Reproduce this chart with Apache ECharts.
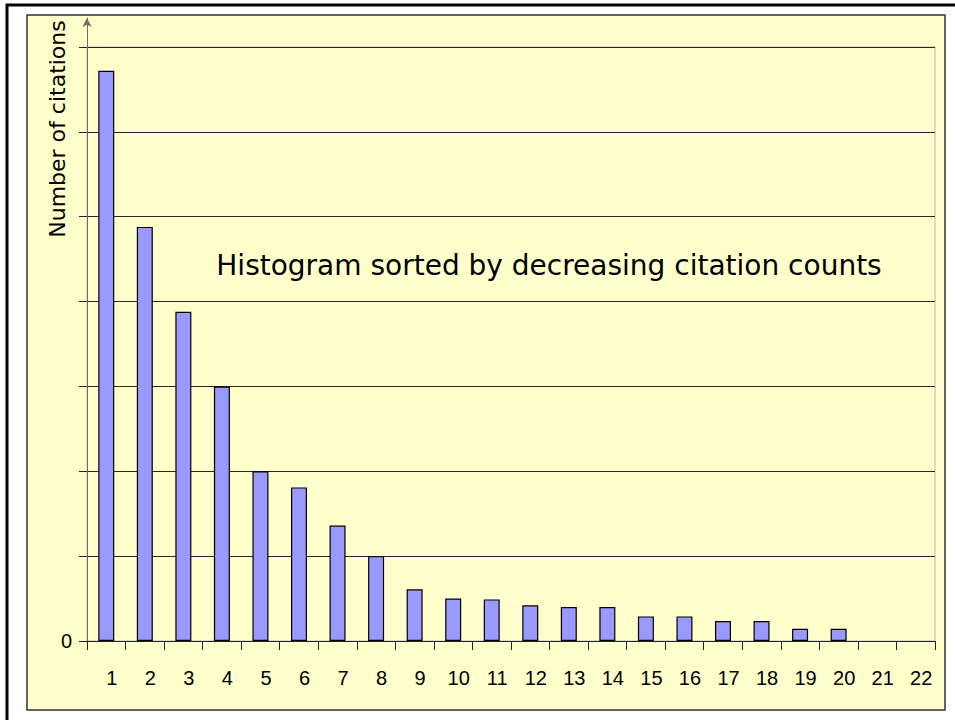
<!DOCTYPE html>
<html>
<head>
<meta charset="utf-8">
<script src="https://cdn.jsdelivr.net/npm/echarts@6/dist/echarts.min.js"></script>
<style>
html,body{margin:0;padding:0;background:#fff;}
#c{width:955px;height:720px;}
</style>
</head>
<body>
<div id="c"></div>
<script>
// Data (y in gridline units; the axis has no value labels except 0)
const categories = ['1','2','3','4','5','6','7','8','9','10','11','12','13','14','15','16','17','18','19','20','21','22'];
const citations = [6.72, 4.88, 3.88, 3.0, 2.0, 1.81, 1.36, 1.0, 0.61, 0.50, 0.49, 0.42, 0.40, 0.40, 0.29, 0.29, 0.235, 0.235, 0.145, 0.145, null, null];
const yTicks = [0, 1, 2, 3, 4, 5, 6, 7];
const titleText = 'Histogram sorted by decreasing citation counts';
const yName = 'Number of citations';

const FONT = '"DejaVu Sans", Verdana, sans-serif';
const NUMFONT = '"Liberation Sans", Arial, sans-serif';
const chart = echarts.init(document.getElementById('c'), null, {renderer: 'svg'});
chart.setOption({
  animation: false,
  backgroundColor: '#ffffff',
  grid: [
    {left: 87, right: 20, top: 47, bottom: 79, show: true, borderColor: '#b8b8b8', borderWidth: 1, backgroundColor: 'transparent'},
    {left: 87, right: 20, top: 18, bottom: 79, show: false}
  ],
  graphic: [
    {type: 'rect', z: -20, silent: true, shape: {x: 7, y: 5, width: 960, height: 730}, style: {fill: '#ffffff', stroke: '#000', lineWidth: 3}},
    {type: 'rect', z: -10, silent: true, shape: {x: 27, y: 15, width: 918, height: 695}, style: {fill: '#FFFFCC', stroke: '#333', lineWidth: 1.5}},
    {type: 'text', z: 100, x: 549, y: 265, style: {text: titleText, font: '28px ' + FONT, fill: '#000', textAlign: 'center', textVerticalAlign: 'middle'}},
    {type: 'text', z: 100, x: 57, y: 129, rotation: Math.PI / 2, style: {text: yName, font: '22px ' + FONT, fill: '#000', textAlign: 'center', textVerticalAlign: 'middle'}}
  ],
  xAxis: [
    {
      type: 'category', gridIndex: 0,
      data: categories,
      boundaryGap: true,
      axisLine: {lineStyle: {color: '#222', width: 1}},
      axisTick: {show: true, length: 9, inside: false, lineStyle: {color: '#222'}},
      axisLabel: {color: '#000', fontFamily: NUMFONT, fontSize: 20, margin: 27, padding: [0, 0, 0, 11], interval: 0},
      splitLine: {show: false}
    },
    {type: 'category', gridIndex: 1, data: categories, show: false}
  ],
  yAxis: [
    {
      type: 'value', gridIndex: 0, min: 0, max: 7, interval: 1,
      axisLine: {show: false},
      axisTick: {show: true, length: 8, inside: false, lineStyle: {color: '#222'}},
      axisLabel: {color: '#000', fontFamily: NUMFONT, fontSize: 20, margin: 15,
        formatter: function (v) { return yTicks.indexOf(v) === 0 ? '0' : ''; }},
      splitLine: {show: true, lineStyle: {color: '#262626', width: 1}}
    },
    {
      type: 'value', gridIndex: 1, min: 0, max: 7.36, position: 'left', offset: 0,
      axisLine: {show: true, symbol: ['none', 'arrow'], symbolSize: [7, 9], lineStyle: {color: '#6e6e6e', width: 1}},
      axisTick: {show: false}, axisLabel: {show: false}, splitLine: {show: false}
    }
  ],
  series: [{
    type: 'bar',
    xAxisIndex: 0,
    yAxisIndex: 0,
    data: citations,
    barWidth: 16,
    itemStyle: {color: '#9999FF', borderColor: '#000', borderWidth: 1.2}
  }]
});
</script>
</body>
</html>
